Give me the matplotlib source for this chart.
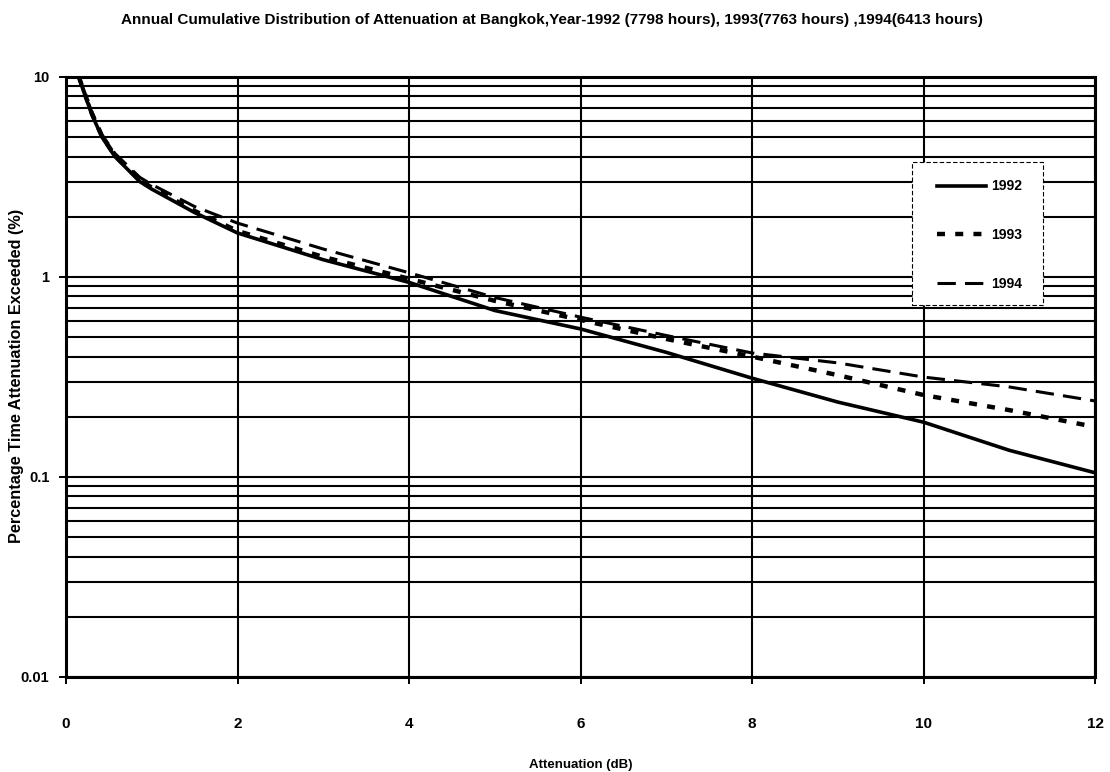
import matplotlib
matplotlib.use('Agg')
import matplotlib.pyplot as plt
from matplotlib.patches import Rectangle
from matplotlib.ticker import FixedLocator, NullFormatter

plt.rcParams['font.family'] = ['Liberation Sans', 'DejaVu Sans']

title = 'Annual Cumulative Distribution of Attenuation at Bangkok,Year-1992 (7798 hours), 1993(7763 hours) ,1994(6413 hours)'
x_ticks = [0, 2, 4, 6, 8, 10, 12]
y_ticks = [0.01, 0.1, 1, 10]
y_tick_labels = ['0.01', '0.1', '1', '10']

x_vals = [0.15, 0.2, 0.3, 0.42, 0.57, 0.86, 1, 1.5, 2, 3, 4, 5, 6, 7, 8, 9, 10, 11, 12]
y_1992 = [10, 8.6, 6.5, 5.0, 4.0, 3.0, 2.75, 2.1, 1.66, 1.22, 0.94, 0.68, 0.55, 0.42, 0.312, 0.237, 0.188, 0.136, 0.105]
y_1993 = [10, 8.7, 6.6, 5.05, 4.05, 3.05, 2.8, 2.14, 1.7, 1.26, 0.98, 0.76, 0.61, 0.49, 0.40, 0.323, 0.257, 0.216, 0.178]
y_1994 = [10, 8.8, 6.7, 5.15, 4.15, 3.15, 2.9, 2.25, 1.86, 1.38, 1.05, 0.79, 0.63, 0.51, 0.417, 0.372, 0.316, 0.282, 0.24]

fig = plt.figure(figsize=(11.1, 7.72), dpi=100)
ax = fig.add_axes([66/1110, 1 - 677/772, (1095-66)/1110, (677-77)/772])

ax.plot(x_vals, y_1992, color='black', lw=2.6, label='1992')
ax.plot(x_vals, y_1993, color='black', lw=3.2, ls=(0, (1.8, 2.3)), label='1993')
ax.plot(x_vals, y_1994, color='black', lw=2.2, ls=(0, (6, 3)), label='1994')

ax.set_yscale('log')
ax.set_xlim(0, 12)
ax.set_ylim(0.01, 10)
ax.xaxis.set_major_locator(FixedLocator(x_ticks))
ax.set_xticklabels(x_ticks, fontsize=11, fontweight='bold')
ax.yaxis.set_major_locator(FixedLocator(y_ticks))
ax.set_yticklabels(y_tick_labels, fontsize=10.5, fontweight='bold')
ax.yaxis.set_minor_locator(FixedLocator([m * d for d in (0.01, 0.1, 1) for m in range(2, 10)]))
ax.yaxis.set_minor_formatter(NullFormatter())
ax.tick_params(axis='x', pad=24, length=5, width=1.4)
ax.tick_params(axis='y', which='major', pad=7, length=5, width=1.4)
ax.tick_params(axis='y', which='minor', length=0)

ax.grid(True, which='major', color='black', lw=1.5)
ax.grid(True, which='minor', axis='y', color='black', lw=1.5)
ax.set_axisbelow(True)
for s in ax.spines.values():
    s.set_linewidth(2.2)

fig.text(581/1110, 1 - 765/772, 'Attenuation (dB)', ha='center', va='center', fontsize=9.5, fontweight='bold')
fig.text(17/1110, 1 - 376/772, 'Percentage Time Attenuation Exceeded (%)', rotation=90, ha='center', va='center',
         fontsize=11.7, fontweight='bold')
fig.text(552/1110, 1 - 20/772, title, ha='center', va='center', fontsize=10.95, fontweight='bold')

# white legend box drawn separately so the entries can sit off-centre in it
ax.add_patch(Rectangle(((912-66)/1029, (677-305)/600), 131/1029, 143/600, transform=ax.transAxes, facecolor='white',
                       edgecolor='black', lw=0.8, ls=(0, (4, 2)), zorder=4))
leg = ax.legend(loc='upper left', bbox_to_anchor=((937-66)/1029, (677-179.5)/600), bbox_transform=ax.transAxes,
                fontsize=10, frameon=False, labelspacing=2.5, handlelength=3.5, borderpad=0, handletextpad=0.4,
                borderaxespad=0)
for t in leg.get_texts():
    t.set_fontweight('bold')

fig.savefig('out.png', dpi=100)
